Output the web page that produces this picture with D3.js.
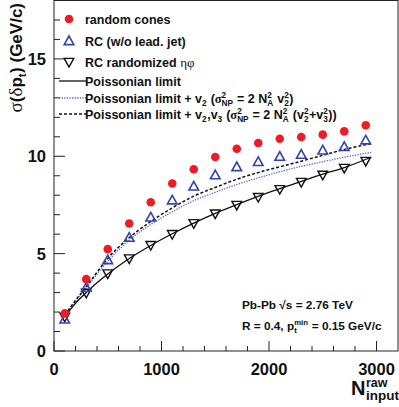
<!DOCTYPE html>
<html><head><meta charset="utf-8">
<script src="https://cdn.jsdelivr.net/npm/d3@7"></script>
<style>
html,body{margin:0;padding:0;background:#fff;}
svg{display:block;}
text{font-family:"Liberation Sans",Arial,Helvetica,sans-serif;font-weight:bold;fill:#111;white-space:pre;}
</style></head><body>
<svg id="c" width="399" height="407"></svg>
<script>
// ---- data ----
const nInput = [100,300,500,700,900,1100,1300,1500,1700,1900,2100,2300,2500,2700,2900];
const randomCones = [1.93,3.69,5.23,6.55,7.64,8.60,9.33,9.96,10.39,10.68,10.90,10.99,11.11,11.28,11.59];
const rcNoLeadJet = [1.62,3.25,4.67,5.82,6.86,7.74,8.45,9.03,9.45,9.71,9.98,10.08,10.30,10.48,10.82];
const rcRandomized = [1.76,2.99,3.98,4.75,5.44,6.00,6.56,7.06,7.50,7.90,8.31,8.68,9.05,9.40,9.76];
const curveN = [100,200,300,400,500,700,900,1100,1300,1500,1700,2000,2200,2500,2700,2950];
const poissonLimit = [1.75,2.45,3.00,3.50,3.95,4.75,5.42,6.02,6.57,7.07,7.52,8.15,8.52,9.08,9.42,9.95];
const poissonV2 = [1.80,2.55,3.25,3.95,4.60,5.70,6.50,7.15,7.72,8.15,8.55,9.05,9.35,9.72,9.95,10.20];
const poissonV2V3 = [1.85,2.60,3.30,4.05,4.75,5.82,6.65,7.35,7.95,8.40,8.82,9.32,9.60,10.05,10.35,10.65];
const xMajorTicks = [0,1000,2000,3000];
const yMajorTicks = [0,5,10,15];

// ---- layout ----
const svg = d3.select("#c");
const x = d3.scaleLinear().domain([0,3200]).range([54,398]);
const y = d3.scaleLinear().domain([0,18]).range([351,0.5]);
const serif = '"Liberation Serif","DejaVu Serif",serif';

// frame
svg.append("rect").attr("x",54).attr("y",0.5).attr("width",344).attr("height",350.5)
  .attr("fill","none").attr("stroke","#222").attr("stroke-width",1);

// ticks
const yMinor = d3.range(0,18,1).filter(v=>!yMajorTicks.includes(v));
const xMinor = d3.range(200,3200,200).filter(v=>!xMajorTicks.includes(v));
const tk = svg.append("g").attr("stroke","#222").attr("stroke-width",1);
yMajorTicks.forEach(v=>tk.append("line").attr("x1",54).attr("x2",65).attr("y1",y(v)).attr("y2",y(v)));
yMinor.forEach(v=>tk.append("line").attr("x1",54).attr("x2",60).attr("y1",y(v)).attr("y2",y(v)));
xMajorTicks.forEach(v=>tk.append("line").attr("x1",x(v)).attr("x2",x(v)).attr("y1",351).attr("y2",341));
xMinor.forEach(v=>tk.append("line").attr("x1",x(v)).attr("x2",x(v)).attr("y1",351).attr("y2",346));

// tick labels
svg.selectAll(".yl").data(yMajorTicks).enter().append("text")
  .attr("x",46).attr("y",d=>y(d)+6).attr("text-anchor","end").attr("font-size",16.5).text(d=>d);
svg.selectAll(".xl").data(xMajorTicks).enter().append("text")
  .attr("x",d=>x(d)).attr("y",374.5).attr("text-anchor","middle").attr("font-size",16.5).text(d=>d);

// rich text helper
function rich(g, x0, yb, parts, fs){
  let cx = x0;
  const sfs = fs*0.66;
  const put = (t, xx, yy, size, font, weight) => {
    const el = g.append("text").attr("x",xx).attr("y",yy).attr("font-size",size)
      .attr("xml:space","preserve").text(t);
    if(font) el.style("font-family",font);
    if(weight) el.style("font-weight",weight);
    return el.node().getComputedTextLength();
  };
  parts.forEach(p=>{
    if(p.t!==undefined){ cx += put(p.t,cx,yb,p.fs||fs,p.font,p.w); }
    else {
      let w1=0,w2=0;
      if(p.sup!==undefined) w1 = put(p.sup,cx,yb-fs*0.4,sfs);
      if(p.sub!==undefined) w2 = put(p.sub,cx,yb+fs*0.25,sfs);
      cx += Math.max(w1,w2)+0.5;
    }
  });
  return cx-x0;
}

// curves
const line = d3.line().x((d,i)=>x(curveN[i])).y(d=>y(d)).curve(d3.curveMonotoneX);
svg.append("path").attr("d",line(poissonLimit)).attr("fill","none").attr("stroke","#111").attr("stroke-width",1.3);
svg.append("path").attr("d",line(poissonV2)).attr("fill","none").attr("stroke","#4a68d0").attr("stroke-width",1.3).attr("stroke-dasharray","1.3,1.3");
svg.append("path").attr("d",line(poissonV2V3)).attr("fill","none").attr("stroke","#111").attr("stroke-width",1.5).attr("stroke-dasharray","3,2");

// markers
const upTri = (cx,cy)=>`M${cx-4.8},${cy+3.6}L${cx+4.8},${cy+3.6}L${cx},${cy-5}Z`;
const dnTri = (cx,cy)=>`M${cx-4.8},${cy-3.6}L${cx+4.8},${cy-3.6}L${cx},${cy+5}Z`;
svg.selectAll(".dn").data(rcRandomized).enter().append("path")
  .attr("d",(d,i)=>dnTri(x(nInput[i]),y(d))).attr("fill","none").attr("stroke","#111").attr("stroke-width",1.4);
svg.selectAll(".up").data(rcNoLeadJet).enter().append("path")
  .attr("d",(d,i)=>upTri(x(nInput[i]),y(d))).attr("fill","none").attr("stroke","#3344b0").attr("stroke-width",1.6);
svg.selectAll(".rc").data(randomCones).enter().append("circle")
  .attr("cx",(d,i)=>x(nInput[i])).attr("cy",d=>y(d)).attr("r",4.3).attr("fill","#ee1c24");

// legend
const lg = svg.append("g");
const lx = 85, fsL = 12.5;
lg.append("circle").attr("cx",69).attr("cy",19).attr("r",4.3).attr("fill","#ee1c24");
rich(lg,lx,23.5,[{t:"random cones"}],fsL);
lg.append("path").attr("d",upTri(69,41)).attr("fill","none").attr("stroke","#3344b0").attr("stroke-width",1.6);
rich(lg,lx,45.5,[{t:"RC (w/o lead. jet)"}],fsL);
lg.append("path").attr("d",dnTri(69,62)).attr("fill","none").attr("stroke","#111").attr("stroke-width",1.4);
rich(lg,lx,66.5,[{t:"RC randomized "},{t:"ηφ",font:serif,w:"normal",fs:13}],fsL);
lg.append("line").attr("x1",59).attr("x2",86).attr("y1",81).attr("y2",81).attr("stroke","#111").attr("stroke-width",1.3);
rich(lg,lx,85.5,[{t:"Poissonian limit"}],fsL);
lg.append("line").attr("x1",59).attr("x2",86).attr("y1",98).attr("y2",98).attr("stroke","#4a68d0").attr("stroke-width",1.3).attr("stroke-dasharray","1.3,1.3");
rich(lg,lx,102.5,[{t:"Poissonian limit + v"},{sub:"2"},{t:" ("},{t:"σ",font:serif},{sup:"2",sub:"NP"},{t:" = 2 N"},{sup:"2",sub:"A"},{t:" v"},{sup:"2",sub:"2"},{t:")"}],fsL);
lg.append("line").attr("x1",59).attr("x2",86).attr("y1",114).attr("y2",114).attr("stroke","#111").attr("stroke-width",1.5).attr("stroke-dasharray","3,2");
rich(lg,lx,118.5,[{t:"Poissonian limit + v"},{sub:"2"},{t:",v"},{sub:"3"},{t:" ("},{t:"σ",font:serif},{sup:"2",sub:"NP"},{t:" = 2 N"},{sup:"2",sub:"A"},{t:" (v"},{sup:"2",sub:"2"},{t:"+v"},{sup:"2",sub:"3"},{t:"))"}],fsL);

// annotation
const an = svg.append("g");
rich(an,242,309,[{t:"Pb-Pb √s = 2.76 TeV"}],11.8);
rich(an,242,330,[{t:"R = 0.4, p"},{sup:"min",sub:"t"},{t:" = 0.15 GeV/c"}],11.8);

// y title
const yt = svg.append("g");
const wT = rich(yt,0,0,[{t:"σ",font:serif,w:"normal",fs:19},{t:"("},{t:"δ",font:serif,w:"normal",fs:19},{t:"p"},{sub:"t"},{t:") (GeV/c)"}],17);
yt.attr("transform",`translate(22,${3+wT}) rotate(-90)`);

// x title
svg.append("text").attr("x",351).attr("y",395).attr("font-size",20).text("N");
svg.append("text").attr("x",366).attr("y",387).attr("font-size",12.5).text("raw");
svg.append("text").attr("x",366).attr("y",400).attr("font-size",13.5).text("input");
</script></body></html>
